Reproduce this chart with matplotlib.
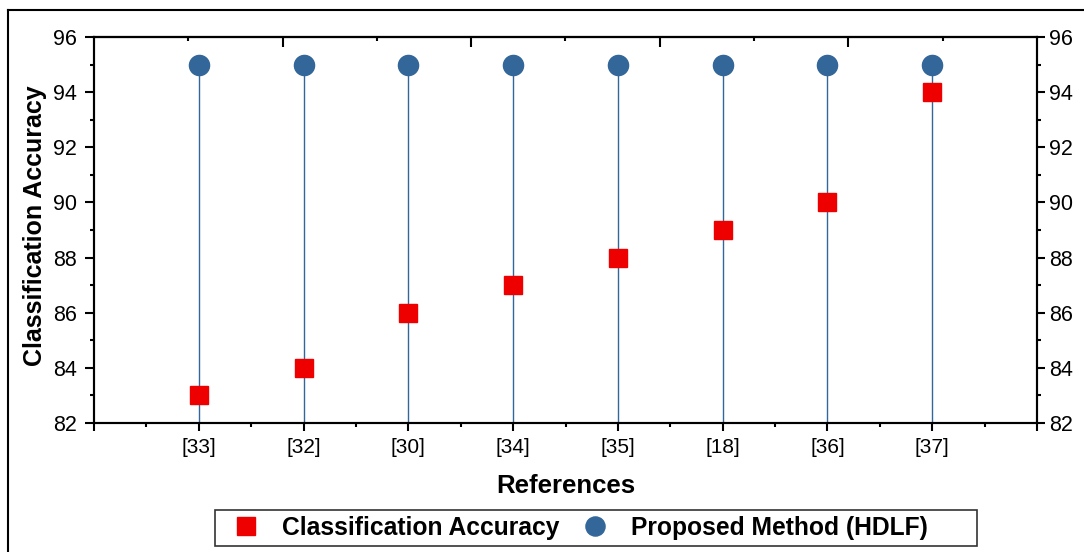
import matplotlib
matplotlib.use("Agg")
import matplotlib.pyplot as plt
from matplotlib.lines import Line2D
from matplotlib.patches import Rectangle
from matplotlib.ticker import MultipleLocator, FixedLocator, NullFormatter

plt.rcParams['font.family'] = ['Liberation Sans', 'DejaVu Sans']

references = ["[33]", "[32]", "[30]", "[34]", "[35]", "[18]", "[36]", "[37]"]
classification_accuracy = [83, 84, 86, 87, 88, 89, 90, 94]
proposed_hdlf = [95, 95, 95, 95, 95, 95, 95, 95]

red = "#ee0000"
blue = "#336699"
W, H = 1084, 552

fig = plt.figure(figsize=(W / 100, H / 100), dpi=100)
ax = fig.add_axes([94/W, 1 - 423/H, (1037-94)/W, (423-37)/H])

x = list(range(1, len(references) + 1))

ax.vlines(x, 82, proposed_hdlf, colors=blue, linewidth=1.0, zorder=1)
ax.plot(x, classification_accuracy, linestyle='none', marker='s', markersize=13,
        color=red, label="Classification Accuracy", zorder=3)
ax.plot(x, proposed_hdlf, linestyle='none', marker='o', markersize=14.5,
        color=blue, label="Proposed Method (HDLF)", zorder=3)

ax.set_xlim(0, 9)
ax.set_ylim(82, 96)

ax.xaxis.set_major_locator(FixedLocator(range(0, 10)))
ax.set_xticklabels([""] + references + [""])
ax.xaxis.set_minor_locator(MultipleLocator(0.5))
ax.yaxis.set_major_locator(MultipleLocator(2))
ax.yaxis.set_minor_locator(MultipleLocator(1))

for sp in ax.spines.values():
    sp.set_linewidth(1.5)

ax.tick_params(axis='x', which='major', direction='out', length=6, width=1.5,
               labelsize=15, pad=5)
ax.tick_params(axis='x', which='minor', direction='out', length=3, width=1.5)
ax.tick_params(axis='y', which='major', direction='out', length=6.5, width=1.5,
               labelsize=15.5, pad=5.5)
ax.tick_params(axis='y', which='minor', direction='out', length=3, width=1.5)

# right axis
ax2 = ax.twinx()
ax2.set_ylim(82, 96)
ax2.yaxis.set_major_locator(MultipleLocator(2))
ax2.yaxis.set_minor_locator(MultipleLocator(1))
ax2.tick_params(axis='y', which='major', direction='out', length=5.5, width=1.5,
                labelsize=15.5, pad=3)
ax2.tick_params(axis='y', which='minor', direction='out', length=3, width=1.5)
for sp in ax2.spines.values():
    sp.set_linewidth(1.5)

# top axis with its own ticks (inward)
top = ax.secondary_xaxis('top', functions=(lambda v: v * 10 / 9, lambda v: v * 9 / 10))
top.xaxis.set_major_locator(FixedLocator([2, 4, 6, 8]))
top.xaxis.set_minor_locator(FixedLocator([1, 3, 5, 7, 9]))
top.xaxis.set_major_formatter(NullFormatter())
top.tick_params(which='major', direction='in', length=7, width=1.5)
top.tick_params(which='minor', direction='in', length=3, width=1.5)
top.spines['top'].set_linewidth(1.5)

ax.set_xlabel("References", fontsize=18.5, fontweight='bold', labelpad=12)
ax.set_ylabel("Classification Accuracy", fontsize=18, fontweight='bold')
ax.yaxis.set_label_coords((47 - 94) / 943, (423 - 226) / 386)

# legend (frame drawn separately)
leg = fig.legend(loc='center left', bbox_to_anchor=(215/W, 1 - 528/H), ncol=2,
                 frameon=False, prop={'weight': 'bold', 'size': 17.7},
                 handletextpad=0.5, columnspacing=0.5, borderpad=0.3,
                 borderaxespad=0.0, handlelength=1.92, markerscale=0.95)
fig.add_artist(Rectangle((215/W, 1 - 546/H), (977-215)/W, (546-510)/H,
                         transform=fig.transFigure, fill=False,
                         edgecolor='#333333', linewidth=1.2))

# outer border (top and left visible)
fig.add_artist(Line2D([8/W, 1.0], [1 - 10/H, 1 - 10/H], color='black',
                      linewidth=1.5, transform=fig.transFigure))
fig.add_artist(Line2D([8/W, 8/W], [0, 1 - 10/H], color='black',
                      linewidth=1.5, transform=fig.transFigure))

fig.savefig("out.png", dpi=100)
